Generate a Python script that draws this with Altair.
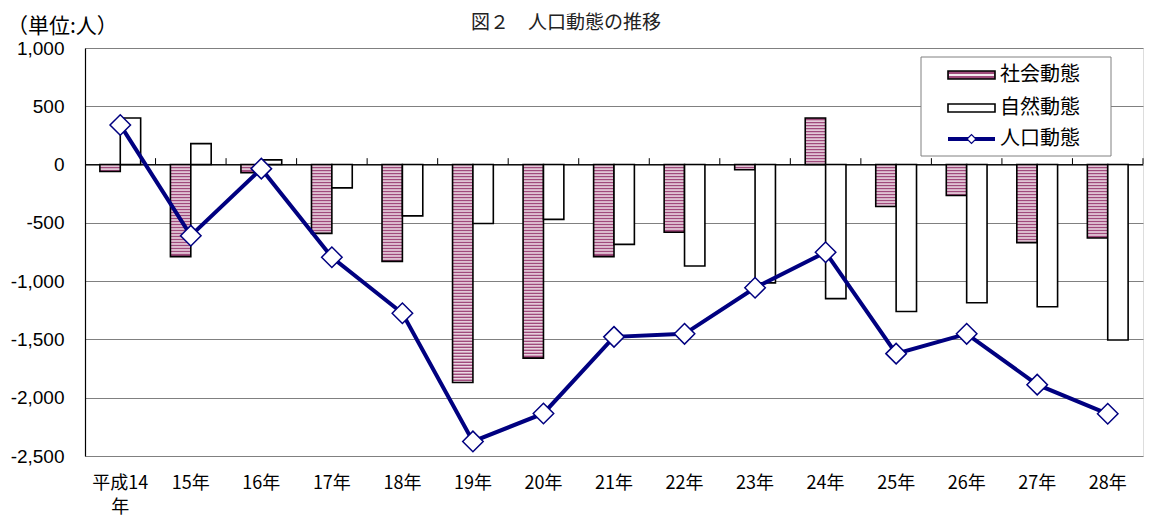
import altair as alt
import pandas as pd

# ---- data ----
years = ["平成14\n年", "15年", "16年", "17年", "18年", "19年", "20年", "21年",
         "22年", "23年", "24年", "25年", "26年", "27年", "28年"]
social = [-60, -790, -70, -590, -830, -1870, -1660, -790, -580, -45, 400, -360, -265, -670, -630]
natural = [400, 180, 40, -200, -440, -505, -470, -685, -870, -1015, -1150, -1260, -1185, -1220, -1505]
population = [340, -610, -35, -795, -1275, -2375, -2135, -1478, -1452, -1057, -752, -1622, -1452, -1888, -2138]
series = ["社会動態", "自然動態", "人口動態"]
y_ticks = [-2500, -2000, -1500, -1000, -500, 0, 500, 1000]
title_text = "図２　人口動態の推移"
unit_text = "（単位:人）"

PINK = "#a04a7c"
NAVY = "#000080"
CJK = "Noto Sans CJK JP"

bars_df = pd.DataFrame(
    [{"year": y, "series": series[0], "value": v} for y, v in zip(years, social)]
    + [{"year": y, "series": series[1], "value": v} for y, v in zip(years, natural)]
)
social_df = bars_df[bars_df["series"] == series[0]]
natural_df = bars_df[bars_df["series"] == series[1]]
line_df = pd.DataFrame({"year": years, "value": population})

# decorative horizontal stripes inside the social bars (derived from the values)
period, thick = 25.7, 12.0
rows = []
for y, v in zip(years, social):
    sgn = 1 if v > 0 else -1
    s = 7.0
    while s + thick < abs(v):
        rows.append({"year": y, "series": series[0], "s0": sgn * s, "s1": sgn * (s + thick)})
        s += period
stripes_df = pd.DataFrame(rows)

one = pd.DataFrame({"k": [0]})

xscale = alt.Scale(domain=years, paddingInner=0, paddingOuter=0)
xaxis = alt.Axis(labelAngle=0, ticks=False, domain=False, labelFont=CJK, labelFontSize=18,
                 labelColor="black", labelPadding=18, labelLineHeight=24,
                 labelExpr="split(datum.label, '\\n')", grid=False)
yscale = alt.Scale(domain=[-2500, 1000], nice=False, zero=False)
yaxis = alt.Axis(values=y_ticks, ticks=False, labelFont="Liberation Sans",
                 labelExpr="replace(format(datum.value, ',.0f'), '\u2212', '-')",
                 labelFontSize=19, labelColor="black", labelPadding=21, grid=True,
                 gridColor="#808080", gridWidth=1, domainColor="black", domainWidth=1.2)
offscale = alt.Scale(domain=series[:2], paddingInner=0, paddingOuter=0.73)


def X(band=None):
    if band is None:
        return alt.X("year:N", scale=xscale, axis=xaxis, title=None, sort=years)
    return alt.X("year:N", scale=xscale, axis=xaxis, title=None, sort=years, bandPosition=band)


def Y(field):
    return alt.Y(f"{field}:Q", scale=yscale, axis=yaxis, title=None)


off = alt.XOffset("series:N", scale=offscale)

social_fill = alt.Chart(social_df).mark_bar(fill=PINK, strokeWidth=0).encode(
    x=X(), xOffset=off, y=Y("value"), y2=alt.datum(0))
stripes = alt.Chart(stripes_df).mark_bar(fill="white", strokeWidth=0, opacity=0.88).encode(
    x=X(), xOffset=off, y=Y("s0"), y2="s1:Q")
social_outline = alt.Chart(social_df).mark_bar(fill=None, stroke="black", strokeWidth=1.6).encode(
    x=X(), xOffset=off, y=Y("value"), y2=alt.datum(0))
natural_bars = alt.Chart(natural_df).mark_bar(fill="white", stroke="black", strokeWidth=1.6).encode(
    x=X(), xOffset=off, y=Y("value"), y2=alt.datum(0))

zero_line = alt.Chart(one).mark_rule(color="black", strokeWidth=1).encode(y=alt.datum(0))
ticks = alt.Chart(line_df).mark_rule(color="black", strokeWidth=1).encode(
    x=X(1), y=Y("value"), y2=alt.datum(0)).transform_calculate(value="55")

line = alt.Chart(line_df).mark_line(color=NAVY, strokeWidth=4).encode(x=X(0.5), y=Y("value"))
pts = alt.Chart(line_df).mark_point(shape="diamond", filled=True, fill="white", stroke=NAVY,
                                    strokeWidth=1.5, size=420, opacity=1).encode(
    x=X(0.5), y=Y("value"))

# ---- legend (drawn manually) ----
LX0, LX1, LY0, LY1 = 836, 1026, 9, 108
SX0, SX1, TX = 863, 910, 915
rows_y = [27, 60, 91]
leg_box = alt.Chart(one).mark_rect(fill="white", stroke="#808080", strokeWidth=1).encode(
    x=alt.value(LX0), x2=alt.value(LX1), y=alt.value(LY0), y2=alt.value(LY1))
leg_s1 = alt.Chart(one).mark_rect(fill=PINK, stroke="black", strokeWidth=1.6).encode(
    x=alt.value(SX0), x2=alt.value(SX1), y=alt.value(rows_y[0] - 4), y2=alt.value(rows_y[0] + 4))
leg_s1b = alt.Chart(one).mark_rect(fill="white", opacity=0.88).encode(
    x=alt.value(SX0 + 1), x2=alt.value(SX1 - 1), y=alt.value(rows_y[0] - 1), y2=alt.value(rows_y[0] + 1))
leg_s2 = alt.Chart(one).mark_rect(fill="white", stroke="black", strokeWidth=1.6).encode(
    x=alt.value(SX0), x2=alt.value(SX1), y=alt.value(rows_y[1] - 4), y2=alt.value(rows_y[1] + 4))
leg_l = alt.Chart(one).mark_rule(color=NAVY, strokeWidth=4).encode(
    x=alt.value(SX0), x2=alt.value(SX1), y=alt.value(rows_y[2]))
leg_p = alt.Chart(one).mark_point(shape="diamond", filled=True, fill="white", stroke=NAVY,
                                  strokeWidth=1.2, size=80, opacity=1).encode(
    x=alt.value((SX0 + SX1) / 2), y=alt.value(rows_y[2]))
leg_df = pd.DataFrame({"label": series, "ly": rows_y})
leg_text = alt.Chart(leg_df).mark_text(align="left", baseline="middle", font=CJK, fontSize=20,
                                       color="black").encode(
    x=alt.value(TX), y=alt.Y("ly:Q", scale=None), text="label:N")

# ---- titles ----
title = alt.Chart(pd.DataFrame({"t": [title_text]})).mark_text(
    font=CJK, fontSize=19, color="#222222", align="center", baseline="middle").encode(
    x=alt.value(481), y=alt.value(-25), text="t:N")
unit = alt.Chart(pd.DataFrame({"t": [unit_text]})).mark_text(
    font=CJK, fontSize=21, color="black", align="left", baseline="middle").encode(
    x=alt.value(-78), y=alt.value(-21), text="t:N")

chart = alt.layer(
    social_fill, stripes, social_outline, natural_bars, zero_line, ticks, line, pts,
    leg_box, leg_s1, leg_s1b, leg_s2, leg_l, leg_p, leg_text, title, unit
).properties(
    width=1058, height=408, autosize="none",
    padding={"left": 77, "top": 40, "right": 1, "bottom": 61},
).configure_view(stroke=None).configure(background="white")

chart.save("out.html", embed_options={"renderer": "svg", "actions": False})
